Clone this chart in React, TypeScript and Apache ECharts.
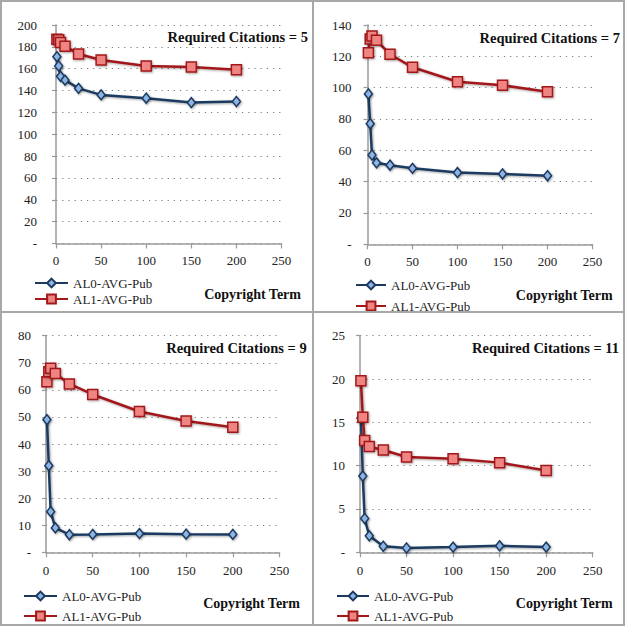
import React, { useEffect, useRef } from "react";
import * as echarts from "echarts";

// ---- data ----
const copyrightTerms = [1, 3, 5, 10, 25, 50, 100, 150, 200];
const seriesNames = ["AL0-AVG-Pub", "AL1-AVG-Pub"];
const requiredCitations = [5, 7, 9, 11];

const al0Rc5 = [171, 162.5, 153, 149.5, 142, 136, 133, 129, 130];
const al1Rc5 = [187, 186.5, 184, 180.5, 173.5, 168, 162.5, 161.5, 159];
const al0Rc7 = [96, 77, 57, 52, 50.5, 48.5, 45.8, 44.9, 43.8];
const al1Rc7 = [122.3, 131, 133, 130.2, 121.3, 113, 103.8, 101.5, 97.4];
const al0Rc9 = [49, 32, 15, 9, 6.5, 6.6, 6.9, 6.7, 6.6];
const al1Rc9 = [63, 66.7, 68, 66, 62.2, 58.3, 52, 48.5, 46.2];
const al0Rc11 = [15.5, 8.8, 3.9, 1.9, 0.7, 0.5, 0.6, 0.75, 0.6];
const al1Rc11 = [19.8, 15.6, 12.9, 12.2, 11.8, 11.0, 10.8, 10.35, 9.45];

const yMaxes = [200, 140, 80, 25];
const yIntervals = [20, 20, 10, 5];
const xMax = 250;
const xInterval = 50;
const xAxisTitle = "Copyright Term";

const al0All = [al0Rc5, al0Rc7, al0Rc9, al0Rc11];
const al1All = [al1Rc5, al1Rc7, al1Rc9, al1Rc11];

// ---- layout / style ----
const FONT = "'Liberation Serif', 'Times New Roman', serif";
const BLUE = "#1C3A60";
const BLUE_FILL = "#8DB4E2";
const RED = "#A3191A";
const RED_FILL = "#EE8582";
const AXIS = "#9a9a9a";
const TEXT = "#222";

const layout = [
  { grid: { left: 56, top: 25, width: 225.5, height: 218.5 }, yMargin: 19, xMargin: 10,
    titleX: 308, titleY: 37, ctX: 301, ctY: 294, legLeft: 34, legTop: 276, legGap: 2, legW: 33 },
  { grid: { left: 367.5, top: 25, width: 225, height: 219.3 }, yMargin: 16, xMargin: 11,
    titleX: 620, titleY: 38, ctX: 612.7, ctY: 295.7, legLeft: 355, legTop: 278, legGap: 7, legW: 30 },
  { grid: { left: 46, top: 335.7, width: 233.5, height: 216.6 }, yMargin: 15, xMargin: 12,
    titleX: 306.7, titleY: 347.7, ctX: 300, ctY: 603.3, legLeft: 23, legTop: 589, legGap: 6, legW: 33 },
  { grid: { left: 360, top: 335.7, width: 232.7, height: 216.6 }, yMargin: 15, xMargin: 12,
    titleX: 619, titleY: 347.7, ctX: 612.7, ctY: 603.3, legLeft: 336, legTop: 589, legGap: 6, legW: 32 },
];

const panelRects = [
  { x: 1, y: 1, width: 312, height: 311 },
  { x: 313, y: 1, width: 311, height: 311 },
  { x: 1, y: 312, width: 312, height: 313 },
  { x: 313, y: 312, width: 311, height: 313 },
];

export default function App() {
  const ref = useRef<HTMLDivElement>(null);

  useEffect(() => {
    if (!ref.current) return;
    const chart = echarts.init(ref.current, undefined, { renderer: "svg" });

    const shadow = {
      shadowBlur: 2,
      shadowColor: "rgba(0,0,0,0.35)",
      shadowOffsetX: 1,
      shadowOffsetY: 1,
    };

    const grids = layout.map((l) => ({ ...l.grid }));
    const xAxes = layout.map((l, i) => ({
      type: "value",
      gridIndex: i,
      min: 0,
      max: xMax,
      interval: xInterval,
      axisLine: { show: true, lineStyle: { color: AXIS, width: 1.5 } },
      axisTick: { show: true, length: 5, lineStyle: { color: AXIS, width: 1.2 } },
      axisLabel: { margin: l.xMargin, fontFamily: FONT, fontSize: 13, color: TEXT },
      splitLine: { show: false },
    }));
    const yAxes = layout.map((l, i) => ({
      type: "value",
      gridIndex: i,
      min: 0,
      max: yMaxes[i],
      interval: yIntervals[i],
      axisLine: { show: true, onZero: false, lineStyle: { color: AXIS, width: 1.5 } },
      axisTick: { show: true, length: 4, lineStyle: { color: AXIS, width: 1.2 } },
      axisLabel: {
        margin: l.yMargin,
        fontFamily: FONT,
        fontSize: 13,
        color: TEXT,
        formatter: (v: number) => (v === 0 ? "-" : String(v)),
      },
      splitLine: { show: true, lineStyle: { color: "#7a7a7a", width: 1.2, type: [1.2, 5] } },
    }));

    const series: any[] = [];
    for (let i = 0; i < 4; i++) {
      series.push({
        name: seriesNames[0],
        type: "line",
        xAxisIndex: i,
        yAxisIndex: i,
        data: copyrightTerms.map((t, j) => [t, al0All[i][j]]),
        symbol: "diamond",
        symbolSize: [8, 10],
        lineStyle: { color: BLUE, width: 2.5, ...shadow },
        itemStyle: { color: BLUE_FILL, borderColor: BLUE, borderWidth: 1.5, ...shadow },
        z: 2,
      });
      series.push({
        name: seriesNames[1],
        type: "line",
        xAxisIndex: i,
        yAxisIndex: i,
        data: copyrightTerms.map((t, j) => [t, al1All[i][j]]),
        symbol: "rect",
        symbolSize: 10,
        lineStyle: { color: RED, width: 2.5, ...shadow },
        itemStyle: { color: RED_FILL, borderColor: RED, borderWidth: 1.5, ...shadow },
        z: 3,
      });
    }

    const legends = layout.map((l) => ({
      left: l.legLeft,
      top: l.legTop,
      orient: "vertical",
      itemWidth: l.legW,
      itemHeight: 11,
      itemGap: l.legGap,
      padding: 0,
      selectedMode: false,
      data: seriesNames,
      textStyle: { fontFamily: FONT, fontSize: 13, color: TEXT, lineHeight: 14 },
    }));

    const graphics: any[] = [];
    panelRects.forEach((r) => {
      graphics.push({
        type: "rect",
        shape: r,
        style: { fill: "none", stroke: "#a8a8a8", lineWidth: 2 },
        silent: true,
        z: 100,
      });
    });
    layout.forEach((l, i) => {
      graphics.push({
        type: "text",
        x: l.titleX,
        y: l.titleY,
        style: {
          text: `Required Citations = ${requiredCitations[i]}`,
          font: `bold 14.5px ${FONT}`,
          fill: "#111",
          textAlign: "right",
          textVerticalAlign: "middle",
        },
      });
      graphics.push({
        type: "text",
        x: l.ctX,
        y: l.ctY,
        style: {
          text: xAxisTitle,
          font: `bold 14px ${FONT}`,
          fill: "#111",
          textAlign: "right",
          textVerticalAlign: "middle",
        },
      });
    });

    chart.setOption({
      animation: false,
      backgroundColor: "#ffffff",
      grid: grids,
      xAxis: xAxes,
      yAxis: yAxes,
      legend: legends,
      series,
      graphic: graphics,
    });

    return () => chart.dispose();
  }, []);

  return (
    <div
      ref={ref}
      style={{ position: "absolute", left: 0, top: 0, width: 629, height: 631, background: "#fff" }}
    />
  );
}
